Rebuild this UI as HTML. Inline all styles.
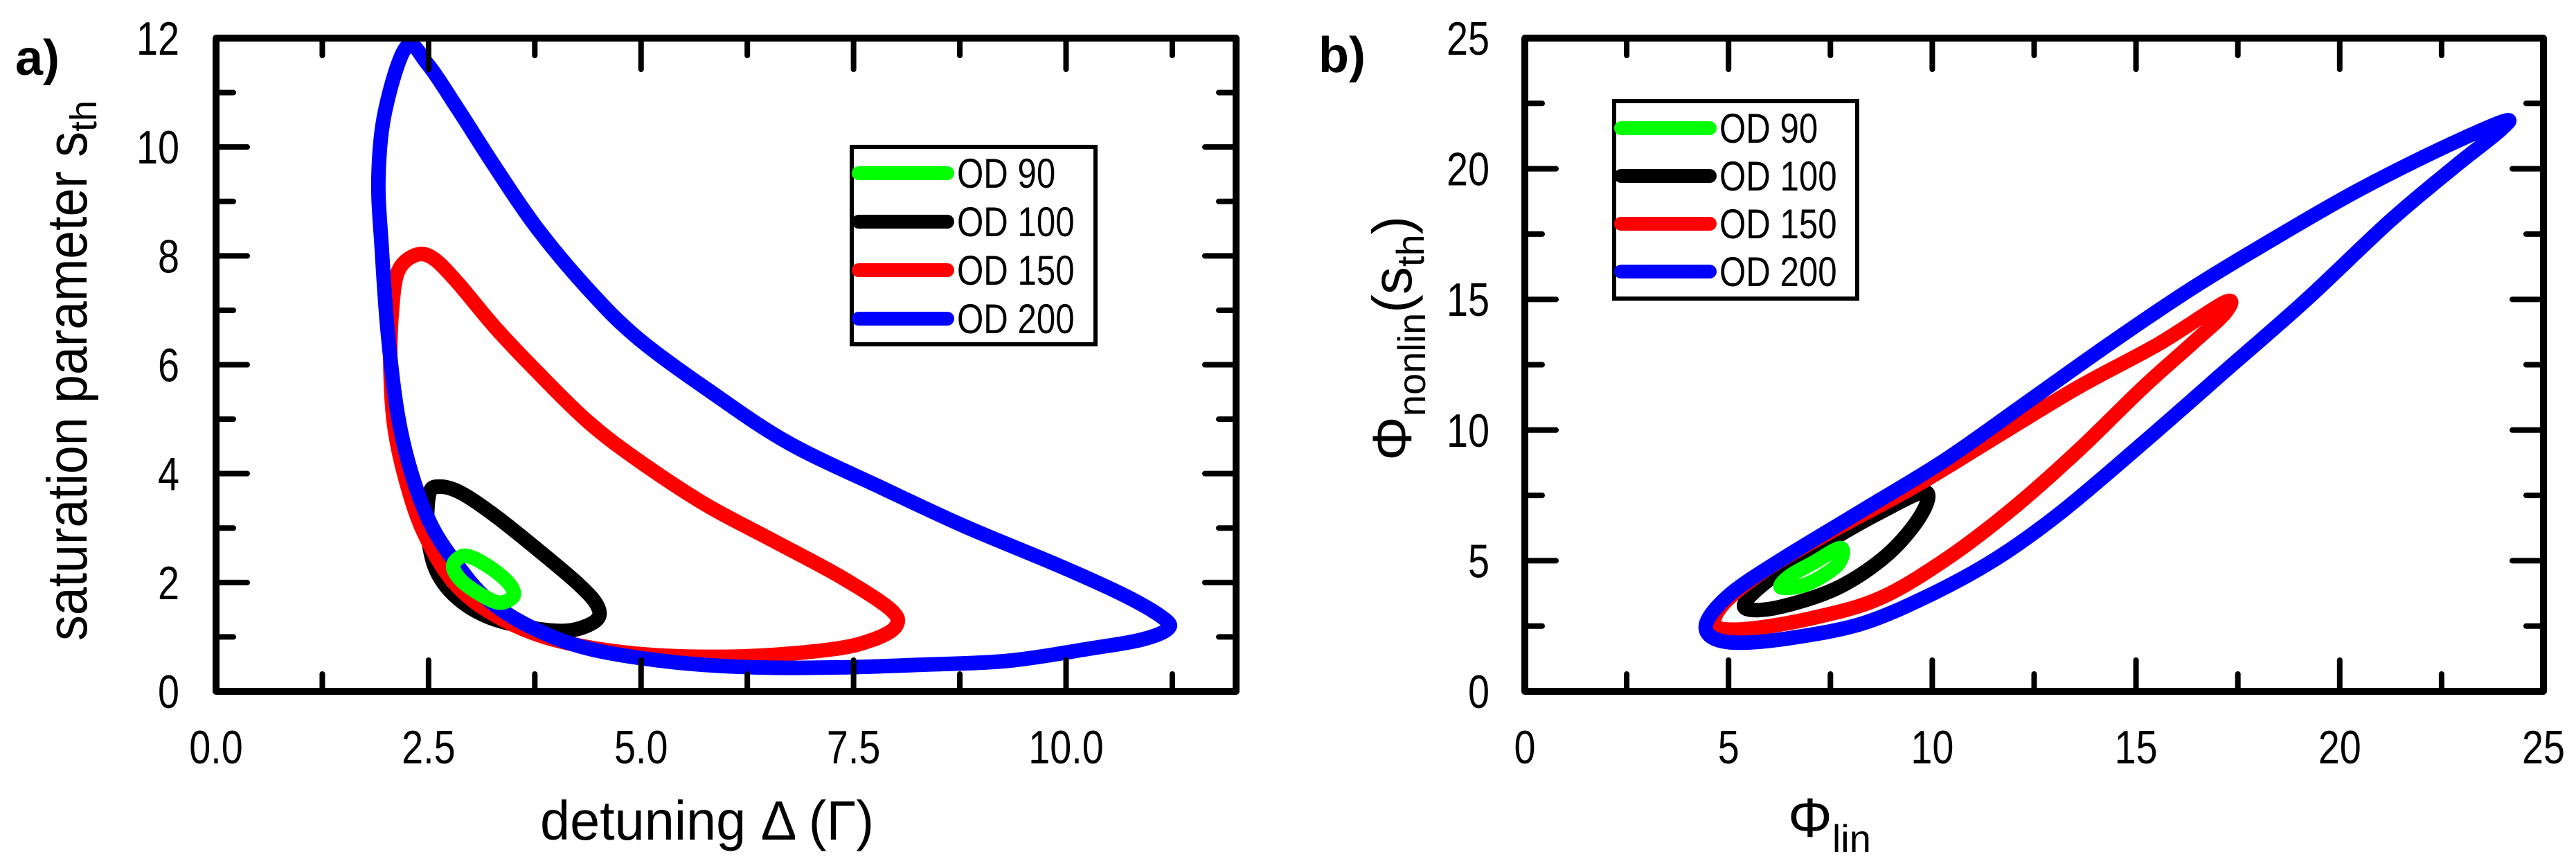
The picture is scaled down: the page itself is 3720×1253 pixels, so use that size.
<!DOCTYPE html>
<html><head><meta charset="utf-8"><style>
html,body{margin:0;padding:0;background:#fff;}
svg{display:block;font-family:"Liberation Sans",Arial,sans-serif;}
</style></head><body>
<svg id="fig" width="3720" height="1253" viewBox="0 0 3720 1253" xmlns="http://www.w3.org/2000/svg">
<rect width="3720" height="1253" fill="#fff"/>
<g id="pa"></g>
<g id="pb"></g>
<text x="22" y="108" font-size="72" font-weight="bold">a)</text>
<text x="1904" y="104" font-size="72" font-weight="bold">b)</text>
<text x="780" y="1212" font-size="80" textLength="482" lengthAdjust="spacingAndGlyphs">detuning Δ (Γ)</text>
<text transform="translate(125,925) rotate(-90)" font-size="82"><tspan textLength="735" lengthAdjust="spacingAndGlyphs">saturation parameter s</tspan><tspan font-size="54" dy="14">th</tspan></text>
<text x="2582" y="1208" font-size="80">Φ<tspan font-size="56" dy="22">lin</tspan></text>
<text transform="translate(2038,665) rotate(-90)" font-size="80">Φ<tspan font-size="56" dy="20">nonlin</tspan><tspan dy="-20">(s</tspan><tspan font-size="56" dy="18">th</tspan><tspan dy="-18">)</tspan></text>
</svg>
<script>
const NS="http://www.w3.org/2000/svg";
const seriesNames=["OD 90","OD 100","OD 150","OD 200"];
const seriesColors=["#00ff00","#000000","#ff0000","#0000ff"];
// Panel a: detuning (x) vs saturation parameter (y)
const a90x=[2.93,2.79,2.87,3.08,3.33,3.5,3.43,3.18];
const a90y=[2.49,2.32,2.06,1.81,1.63,1.76,2.01,2.32];
const a100x=[2.64,2.51,2.49,2.59,2.84,3.23,3.77,4.17,4.47,4.49,4.27,3.77,3.28,2.89];
const a100y=[3.76,3.64,2.93,2.22,1.71,1.35,1.15,1.12,1.3,1.56,1.96,2.62,3.23,3.64];
const a150x=[2.34,2.14,2.07,2.05,2.09,2.22,2.44,2.79,3.28,3.97,4.96,6.15,7.23,7.73,8.0,7.93,7.33,6.54,5.75,4.96,4.37,3.77,3.28,2.84,2.55];
const a150y=[8.01,7.71,7.0,6.08,4.96,3.95,2.93,2.01,1.40,0.95,0.69,0.64,0.77,0.95,1.2,1.51,2.12,2.78,3.44,4.25,4.96,5.88,6.69,7.51,7.96];
const a200x=[2.24,1.99,1.91,1.95,2.02,2.14,2.31,2.54,2.84,3.18,3.68,4.37,5.36,6.34,7.33,8.32,9.31,10.3,10.89,11.2,11.14,10.69,9.9,8.81,7.83,6.74,5.85,4.96,4.37,3.77,3.28,2.84,2.49];
const a200y=[11.84,10.67,9.44,8.12,6.59,5.06,3.95,3.03,2.32,1.71,1.20,0.79,0.54,0.44,0.44,0.49,0.56,0.79,0.95,1.15,1.35,1.76,2.32,3.03,3.74,4.56,5.47,6.49,7.4,8.52,9.64,10.71,11.52];
// Panel b: Phi_lin (x) vs Phi_nonlin (y)
const b90x=[7.7,7.1,6.5,6.29,6.9,7.6,7.8];
const b90y=[5.47,4.94,4.41,3.98,4.09,4.73,5.25];
const b100x=[9.82,8.71,7.5,6.29,5.48,5.48,6.29,7.7,8.91,9.72];
const b100y=[7.63,6.84,5.78,4.62,3.56,3.14,3.24,3.98,5.25,6.74];
const b150x=[17.18,15.56,13.55,11.53,9.52,7.5,5.89,4.88,4.68,5.48,7.1,8.71,10.32,11.94,13.55,15.16,16.37,17.18];
const b150y=[14.89,13.3,11.61,9.7,7.8,6.1,4.62,3.35,2.5,2.39,2.82,3.56,5.04,6.95,9.17,11.61,13.3,14.47];
const b200x=[24.03,22.42,20.4,18.39,16.37,14.35,12.34,10.32,8.31,6.29,5.08,4.48,4.58,5.28,6.69,8.31,9.92,11.53,13.15,15.16,17.18,19.19,21.21,22.82,23.93];
const b200y=[21.82,20.72,19.13,17.33,15.42,13.3,11.08,8.86,6.95,5.04,3.77,2.71,2.08,1.86,2.08,2.61,3.67,5.04,6.84,9.49,12.25,15.0,17.97,20.08,21.46];
const aXTicks=["0.0","2.5","5.0","7.5","10.0"];
const aYTicks=["0","2","4","6","8","10","12"];
const bXTicks=["0","5","10","15","20","25"];
const bYTicks=["0","5","10","15","20","25"];

function el(tag,attrs,parent){const e=document.createElementNS(NS,tag);for(const k in attrs)e.setAttribute(k,attrs[k]);parent.appendChild(e);return e;}
function condense(t,f){const w=t.getComputedTextLength();t.setAttribute("textLength",(w*f).toFixed(1));t.setAttribute("lengthAdjust","spacingAndGlyphs");}
function smoothClosed(P){
  const n=P.length;let d="M"+P[0][0].toFixed(1)+","+P[0][1].toFixed(1);
  for(let i=0;i<n;i++){
    const p0=P[(i-1+n)%n],p1=P[i],p2=P[(i+1)%n],p3=P[(i+2)%n];
    const c1=[p1[0]+(p2[0]-p0[0])/6,p1[1]+(p2[1]-p0[1])/6];
    const c2=[p2[0]-(p3[0]-p1[0])/6,p2[1]-(p3[1]-p1[1])/6];
    d+=" C"+c1.map(v=>v.toFixed(1)).join(",")+" "+c2.map(v=>v.toFixed(1)).join(",")+" "+p2.map(v=>v.toFixed(1)).join(",");
  }
  return d+"Z";
}

function panel(g,cfg){
  const sx=v=>cfg.x0+(v-cfg.xmin)/(cfg.xmax-cfg.xmin)*(cfg.x1-cfg.x0);
  const sy=v=>cfg.y0-(v-cfg.ymin)/(cfg.ymax-cfg.ymin)*(cfg.y0-cfg.y1);
  const order=[1,2,3,0];
  for(const i of order){
    const xs=cfg.data[i][0],ys=cfg.data[i][1];
    const P=xs.map((v,j)=>[sx(v),sy(ys[j])]);
    const p=el("path",{d:smoothClosed(P),fill:"none",stroke:seriesColors[i],"stroke-width":21,"stroke-linejoin":"round"},g);
    
    
  }
  const tk=(v,major,axis)=>{
    const L=major?45:25;
    if(axis==="x"){const x=sx(v);
      el("line",{x1:x,y1:cfg.y0,x2:x,y2:cfg.y0-L,stroke:"#000","stroke-width":8,"stroke-linecap":"round"},g);
      el("line",{x1:x,y1:cfg.y1,x2:x,y2:cfg.y1+L,stroke:"#000","stroke-width":8,"stroke-linecap":"round"},g);
    } else {const y=sy(v);
      el("line",{x1:cfg.x0,y1:y,x2:cfg.x0+L,y2:y,stroke:"#000","stroke-width":8,"stroke-linecap":"round"},g);
      el("line",{x1:cfg.x1,y1:y,x2:cfg.x1-L,y2:y,stroke:"#000","stroke-width":8,"stroke-linecap":"round"},g);
    }
  };
  for(let v=cfg.xmin;v<=cfg.xmax+1e-9;v+=cfg.xminor){const m=Math.abs(v/cfg.xmajor-Math.round(v/cfg.xmajor))<1e-6;if(v>cfg.xmin&&v<cfg.xmax)tk(v,m,"x");}
  for(let v=cfg.ymin;v<=cfg.ymax+1e-9;v+=cfg.yminor){const m=Math.abs(v/cfg.ymajor-Math.round(v/cfg.ymajor))<1e-6;if(v>cfg.ymin&&v<cfg.ymax)tk(v,m,"y");}
  const fr=el("rect",{x:cfg.x0,y:cfg.y1,width:cfg.x1-cfg.x0,height:cfg.y0-cfg.y1,fill:"none",stroke:"#000","stroke-width":10,"stroke-linejoin":"round"},g);
  
  
  cfg.xt.forEach(s=>{
    const t=el("text",{x:sx(parseFloat(s)),y:1102,"font-size":68,"text-anchor":"middle"},g);t.textContent=s;condense(t,0.82);
    
    
  });
  cfg.yt.forEach(s=>{
    const t=el("text",{x:cfg.ylx,y:sy(parseFloat(s))+24,"font-size":68,"text-anchor":"end"},g);t.textContent=s;condense(t,0.82);
    
    
  });
  const lg=el("g",{},g);
  
  
  el("rect",{x:cfg.lx,y:cfg.ly,width:cfg.lw,height:cfg.lh,fill:"#fff",stroke:"#000","stroke-width":6},lg);
  seriesNames.forEach((n,i)=>{
    const y=cfg.ly+cfg.le0+i*cfg.ldy;
    const ln=el("line",{x1:cfg.lx+10,y1:y,x2:cfg.lx+138,y2:y,stroke:seriesColors[i],"stroke-width":20,"stroke-linecap":"round"},lg);
    
    
    const t=el("text",{x:cfg.lx+152,y:y+21,"font-size":60},lg);t.textContent=n;condense(t,0.82);
    
    
  });
}
panel(document.getElementById("pa"),{x0:312,x1:1785,y0:998,y1:55,xmin:0,xmax:12,ymin:0,ymax:12,xmajor:2.5,xminor:1.25,ymajor:2,yminor:1,
  data:[[a90x,a90y],[a100x,a100y],[a150x,a150y],[a200x,a200y]],xt:aXTicks,yt:aYTicks,ylx:259,
  lx:1230,ly:212,lw:352,lh:285,le0:38,ldy:70});
panel(document.getElementById("pb"),{x0:2202,x1:3673,y0:998,y1:55,xmin:0,xmax:25,ymin:0,ymax:25,xmajor:5,xminor:2.5,ymajor:5,yminor:2.5,
  data:[[b90x,b90y],[b100x,b100y],[b150x,b150y],[b200x,b200y]],xt:bXTicks,yt:bYTicks,ylx:2151,
  lx:2331,ly:146,lw:351,lh:285,le0:39,ldy:69});
</script>
</body></html>
